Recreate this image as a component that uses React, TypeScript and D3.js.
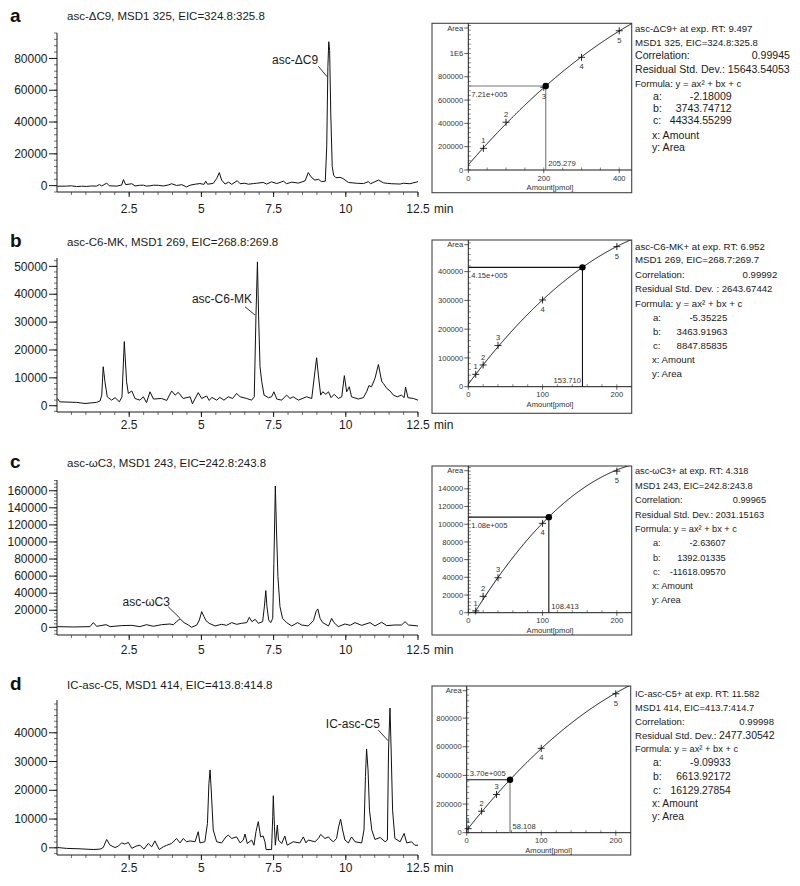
import React from 'react';
import * as d3 from 'd3';

type Pt = [number, number];

const FONT = '"Liberation Sans", Arial, Helvetica, sans-serif';

// ---------------- chromatogram data ----------------
const panelLetters = ['a', 'b', 'c', 'd'];
const chromTitles = [
  'asc-ΔC9, MSD1 325, EIC=324.8:325.8',
  'asc-C6-MK, MSD1 269, EIC=268.8:269.8',
  'asc-ωC3, MSD1 243, EIC=242.8:243.8',
  'IC-asc-C5, MSD1 414, EIC=413.8:414.8',
];
const peakNames = ['asc-ΔC9', 'asc-C6-MK', 'asc-ωC3', 'IC-asc-C5'];
const timeTicks = [2.5, 5, 7.5, 10, 12.5];
const timeTickLabels = ['2.5', '5', '7.5', '10', '12.5'];

const traceA: Pt[] = [
  [0.01, -400], [0.33, -300], [0.5, -100], [0.68, -600], [0.85, -350], [1.03, -500], [1.2, -200], [1.37, -300], [1.47, 700],
  [1.55, -200], [1.72, 1600], [1.81, -100], [2.07, -300], [2.24, 400], [2.3, 3800], [2.38, 600], [2.59, 1200],
  [2.7, -200], [2.85, 200], [2.99, 300], [3.1, -300], [3.22, -100], [3.35, 300], [3.51, 200], [3.68, -200], [3.85, 400], [3.97, 1200],
  [4.14, 100], [4.32, 600], [4.49, -800], [4.61, 300], [4.78, 900], [4.95, 1300], [5.09, 800], [5.15, 2800],
  [5.21, 900], [5.41, 1400], [5.53, 4500], [5.62, 8200], [5.7, 3500], [5.82, 1000], [5.94, 2200], [6.05, 800],
  [6.24, 3100], [6.34, 1200], [6.5, 1500], [6.63, 900], [6.8, 1300], [6.91, 1500], [7.14, 2000], [7.26, 1000], [7.43, 2400],
  [7.61, 1300], [7.84, 2800], [7.95, 1200], [8.13, 2200], [8.36, 1600], [8.59, 3000], [8.7, 8200], [8.82, 5000],
  [8.93, 3500], [9.05, 4000], [9.16, 2500], [9.29, 2800], [9.34, 25000], [9.38, 75000], [9.41, 90500],
  [9.44, 85000], [9.48, 45000], [9.53, 12000], [9.58, 6500], [9.66, 5000], [9.8, 5200], [9.91, 4400],
  [10.09, 2000], [10.25, 1700], [10.38, 1500], [10.61, 1300], [10.78, 2500], [10.86, 1200], [11.13, 3500], [11.3, 1800],
  [11.45, 1400], [11.59, 1200], [11.88, 1000], [11.99, 1500], [12.22, 1200], [12.5, 2500],
];

const traceB: Pt[] = [
  [0.01, 2600], [0.1, 1400], [0.68, 1200], [0.97, 800], [1.37, 1200], [1.49, 1700], [1.55, 3800], [1.6, 14000],
  [1.66, 8600], [1.74, 3200], [1.89, 2000], [2.01, 2900], [2.16, 1400], [2.25, 3200], [2.33, 23000], [2.41, 8600],
  [2.47, 4400], [2.59, 5300], [2.7, 2600], [2.87, 2000], [2.99, 3200], [3.1, 1100], [3.22, 5000], [3.34, 2400],
  [3.62, 2600], [3.8, 1900], [3.97, 5300], [4.09, 3800], [4.2, 4800], [4.37, 2600], [4.61, 3200], [4.69, 700],
  [4.89, 4700], [5.01, 2600], [5.18, 3500], [5.27, 1900], [5.36, 3000], [5.53, 2000], [5.64, 3000], [5.78, 2000],
  [5.93, 3200], [6.08, 2600], [6.22, 4400], [6.34, 3200], [6.57, 2600], [6.74, 2000], [6.83, 3200], [6.89, 32500],
  [6.94, 51600], [6.98, 32500], [7.03, 14000], [7.09, 8600], [7.17, 3800], [7.32, 2900], [7.43, 3200], [7.51, 5000],
  [7.61, 2400], [7.78, 2000], [7.95, 3800], [8.07, 2600], [8.18, 3200], [8.36, 2000], [8.64, 3200], [8.82, 2600],
  [8.93, 12200], [8.99, 17200], [9.05, 11000], [9.13, 3800], [9.2, 5000], [9.31, 4100], [9.4, 5000], [9.49, 2900],
  [9.6, 4100], [9.74, 2600], [9.86, 3200], [9.95, 10800], [10.03, 5000], [10.12, 6800], [10.2, 3200], [10.43, 2400],
  [10.61, 2900], [10.72, 5000], [10.8, 7200], [10.89, 6800], [11.01, 9800], [11.13, 14800], [11.24, 8800],
  [11.3, 8000], [11.42, 6200], [11.53, 5300], [11.65, 3800], [11.78, 3200], [11.93, 3800], [12.02, 2900],
  [12.07, 6700], [12.15, 2900], [12.34, 2600], [12.5, 2000],
];

const traceC: Pt[] = [
  [0.01, 800], [0.57, 400], [1.14, 800], [1.26, 5500], [1.37, 1200], [1.7, 3100], [1.84, 800], [2.24, 2000],
  [2.59, 2300], [2.87, 800], [3.1, 3100], [3.34, 1200], [3.62, 3100], [3.91, 3900], [4.03, 3100], [4.14, 6600],
  [4.26, 10000], [4.4, 5500], [4.55, 2700], [4.66, 0], [4.84, 2700], [4.93, 8600], [5.01, 18400], [5.09, 12500],
  [5.16, 7800], [5.27, 4700], [5.47, 1600], [5.7, 3500], [5.87, 2300], [6.05, 5500], [6.22, 3500], [6.39, 4700],
  [6.57, 5500], [6.66, 11700], [6.75, 6600], [6.86, 9400], [6.97, 4700], [7.12, 6600], [7.18, 24000],
  [7.23, 43000], [7.27, 24000], [7.33, 8600], [7.4, 5500], [7.47, 10500], [7.51, 75000], [7.56, 165600],
  [7.6, 114000], [7.65, 59400], [7.72, 24200], [7.81, 10500], [7.95, 5500], [8.13, 1600], [8.33, 5500],
  [8.47, 2700], [8.7, 1600], [8.88, 7800], [8.97, 18400], [9.03, 21500], [9.11, 10500], [9.2, 5500], [9.4, 1600],
  [9.45, 5500], [9.51, 10500], [9.59, 5500], [9.74, 800], [9.97, 3900], [10.15, 2300], [10.32, 5500],
  [10.55, 2300], [10.84, 5500], [11.01, 1600], [11.24, 5900], [11.42, 2000], [11.7, 2700], [11.93, 2700],
  [12.05, 6600], [12.17, 2700], [12.5, 1600],
];

const traceD: Pt[] = [
  [0.01, 100], [0.33, -200], [0.8, -350], [1.26, -600], [1.49, -450], [1.6, 100], [1.72, 2900], [1.84, 900],
  [2.01, 100], [2.12, 600], [2.24, 1700], [2.35, 1300], [2.47, 1900], [2.59, -200], [2.74, 600], [2.87, 900],
  [3.01, -450], [3.16, 1500], [3.28, 350], [3.39, 2400], [3.54, -600], [3.68, 350], [3.8, 900], [3.97, 1500],
  [4.14, 3250], [4.26, 1700], [4.37, 3250], [4.49, 2100], [4.61, 2400], [4.78, 2100], [4.89, 5600], [4.95, 1700],
  [5.12, 2100], [5.21, 8500], [5.26, 22400], [5.3, 27100], [5.34, 20100], [5.41, 6200], [5.53, 2100],
  [5.7, 1700], [5.85, 3800], [5.93, 4400], [6.05, 3250], [6.22, 3800], [6.34, 1700], [6.45, 2700], [6.51, 4800],
  [6.59, 1500], [6.74, 2700], [6.82, 900], [6.89, 5600], [6.97, 9100], [7.05, 3800], [7.14, 4100], [7.2, 2100],
  [7.24, -600], [7.43, -600], [7.47, 10800], [7.49, 18100], [7.53, 7300], [7.56, 900], [7.63, 7900],
  [7.67, 2700], [7.78, 1500], [7.89, 4100], [7.97, 900], [8.18, 2100], [8.41, 1700], [8.53, 3800], [8.62, 1700],
  [8.7, 2700], [8.93, 2100], [9.05, 3250], [9.13, 4650], [9.28, 3250], [9.4, 3800], [9.49, 2700], [9.57, 2100],
  [9.68, 3250], [9.75, 7300], [9.82, 9900], [9.89, 6200], [9.97, 2700], [10.09, 1700], [10.2, 3800],
  [10.32, 2100], [10.55, 1700], [10.63, 6200], [10.68, 24800], [10.72, 34300], [10.77, 27100], [10.82, 13100],
  [10.9, 6200], [11.01, 2900], [11.19, 3600], [11.36, 2100], [11.44, 2700], [11.48, 34000], [11.53, 48600],
  [11.57, 34000], [11.62, 13100], [11.7, 3250], [11.88, 2100], [12.02, 5000], [12.11, 1700], [12.28, 2100],
  [12.39, 900], [12.5, 900],
];
const traces = [traceA, traceB, traceC, traceD];

const chromYTicksA = [0, 20000, 40000, 60000, 80000];
const chromYTicksB = [0, 10000, 20000, 30000, 40000, 50000];
const chromYTicksC = [0, 20000, 40000, 60000, 80000, 100000, 120000, 140000, 160000];
const chromYTicksD = [0, 10000, 20000, 30000, 40000];
const chromYTicks = [chromYTicksA, chromYTicksB, chromYTicksC, chromYTicksD];

// ---------------- calibration data ----------------
const calAmountsA = [40, 100, 200, 300, 400];
const calAreasA = [186000, 410000, 710000, 967000, 1195000];
const calAmountsB = [10, 20, 40, 100, 200];
const calAreasB = [43000, 75500, 143000, 301600, 487000];
const calAmountsC = [10, 20, 40, 100, 200];
const calAreasC = [2000, 18500, 39500, 101000, 160000];
const calAmountsD = [2, 20, 40, 100, 200];
const calAreasD = [28000, 150000, 267000, 589000, 970000];
const calAmounts = [calAmountsA, calAmountsB, calAmountsC, calAmountsD];
const calAreas = [calAreasA, calAreasB, calAreasC, calAreasD];

const coefsA = [-2.18009, 3743.74712, 44334.55299];
const coefsB = [-5.35225, 3463.91963, 8847.85835];
const coefsC = [-2.63607, 1392.01335, -11618.0957];
const coefsD = [-9.09933, 6613.92172, 16129.27854];
const coefs = [coefsA, coefsB, coefsC, coefsD];

const sampleAmounts = [205.279, 153.71, 108.413, 58.108];
const sampleAreas = [721000, 415000, 108000, 370000];

const calXTicks = [[0, 200, 400], [0, 100, 200], [0, 100, 200], [0, 100, 200]];
const calYTicks = [
  [0, 200000, 400000, 600000, 800000, 1000000],
  [0, 100000, 200000, 300000, 400000],
  [0, 20000, 40000, 60000, 80000, 100000, 120000, 140000],
  [0, 200000, 400000, 600000, 800000],
];

const headerLines = [
  ['asc-ΔC9+ at exp. RT: 9.497', 'MSD1 325, EIC=324.8:325.8'],
  ['asc-C6-MK+ at exp. RT: 6.952', 'MSD1 269, EIC=268.7:269.7'],
  ['asc-ωC3+ at exp. RT: 4.318', 'MSD1 243, EIC=242.8:243.8'],
  ['IC-asc-C5+ at exp. RT: 11.582', 'MSD1 414, EIC=413.7:414.7'],
];
const correlations = ['0.99945', '0.99992', '0.99965', '0.99998'];
const residualLabels = ['Residual Std. Dev.: ', 'Residual Std. Dev. : ', 'Residual Std. Dev.: ', 'Residual Std. Dev.: '];
const residuals = ['15643.54053', '2643.67442', '2031.15163', '2477.30542'];

// ---------------- layout ----------------
const chromLayout = [
  { top: 33, bottom: 192, yDomain: [-4000, 96000], minor: 4000, letterY: 22, titleY: 20, xLabelY: 212.5,
    peakLabel: [9.04, 76200], leader: [[9.05, 75000], [9.36, 68400]] },
  { top: 258, bottom: 412, yDomain: [-2250, 53000], minor: 2000, letterY: 247, titleY: 245.5, xLabelY: 429,
    peakLabel: [6.75, 37000], leader: [[6.51, 35500], [6.86, 32500]] },
  { top: 480, bottom: 635, yDomain: [-9000, 172600], minor: 4000, letterY: 467.5, titleY: 467, xLabelY: 653.5,
    peakLabel: [3.91, 25000], leader: [[3.85, 24100], [4.26, 10500]] },
  { top: 700, bottom: 855, yDomain: [-2500, 51400], minor: 2000, letterY: 690, titleY: 688.5, xLabelY: 872,
    peakLabel: [11.18, 41800], leader: [[11.13, 40900], [11.47, 37200]] },
];

const calLayout = [
  { box: [432, 23.3, 631.7, 192.7], x0: 468.3, yAxis: 170, xMax: 433, yMax: 1259000, yMinor: 40000, xMinor: 50,
    hBelow: true, vRight: true, hColor: '#777', vColor: '#777', numUp: [true, true, false, false, false],
    infoYs: [28.3, 42.7, 55, 69.3, 83.3, 96.7, 108.3, 120.7, 135, 147.3], corrX: 790, coefX: 731.7,
    fs: { small: 9.6, main: 10.6, coef: 10.6, resid: 10.6 } },
  { box: [432, 240, 631.7, 413.3], x0: 468.3, yAxis: 386.7, xMax: 220, yMax: 510000, yMinor: 20000, xMinor: 20,
    hBelow: true, vRight: false, hColor: '#111', vColor: '#111', numUp: [true, true, true, false, false],
    infoYs: [246.7, 260, 275, 289, 304, 317.3, 331.7, 345.7, 360, 374], corrX: 777.3, coefX: 727.3,
    fs: { small: 9.7, main: 9.6, coef: 9.6, resid: 9.6 } },
  { box: [432, 466, 631.7, 635], x0: 468.3, yAxis: 612.7, xMax: 220, yMax: 165800, yMinor: 4000, xMinor: 20,
    hBelow: true, vRight: true, hColor: '#111', vColor: '#111', numUp: [true, true, true, false, false],
    infoYs: [470.7, 485.7, 500, 514.3, 528.7, 542.7, 557.3, 571.7, 585.7, 600], corrX: 766, coefX: 725.7,
    fs: { small: 9.2, main: 9.2, coef: 9.2, resid: 9.2 } },
  { box: [432, 686, 630.7, 855], x0: 466.7, yAxis: 832.7, xMax: 220, yMax: 1024000, yMinor: 40000, xMinor: 20,
    hBelow: false, vRight: true, hColor: '#111', vColor: '#777', numUp: [true, true, true, false, false],
    infoYs: [694, 707.7, 721.7, 735.7, 749, 762.7, 776, 790, 803.3, 816], corrX: 774, coefX: 730.7,
    fs: { small: 9.3, main: 9.6, coef: 10.3, resid: 10.5 } },
];

const INK = '#1a1a1a';
const GREY = '#333';

function fmtExp(v: number) {
  const [m, e] = v.toExponential(2).split('e');
  return `${m}e${e[0]}${e.slice(1).padStart(3, '0')}`;
}

function Chromatogram({ i }: { i: number }) {
  const L = chromLayout[i];
  const x = d3.scaleLinear().domain([0, 12.5]).range([57, 418]);
  const y = d3.scaleLinear().domain(L.yDomain).range([L.bottom, L.top]);
  const path = d3.line<Pt>().x(d => x(Math.min(d[0], 12.5))).y(d => y(d[1]))(traces[i]) || '';
  const minorY = d3.range(Math.ceil(L.yDomain[0] / L.minor) * L.minor, L.yDomain[1] + 1e-6, L.minor);
  const minorX = d3.range(0.5, 12.5001, 0.5);
  return (
    <g>
      <text x={10} y={L.letterY} fontSize={19} fontWeight="bold" fill="#111">{panelLetters[i]}</text>
      <text x={67} y={L.titleY} fontSize={11.5} fill={INK}>{chromTitles[i]}</text>
      {minorY.map(v => (
        <line key={'my' + v} x1={54} x2={57} y1={y(v)} y2={y(v)} stroke={GREY} strokeWidth={0.7} />
      ))}
      {chromYTicks[i].map(v => (
        <g key={'y' + v}>
          <line x1={49} x2={57} y1={y(v)} y2={y(v)} stroke={INK} strokeWidth={1} />
          <text x={47.5} y={y(v)} dy="0.35em" textAnchor="end" fontSize={12} fill={INK}>{v}</text>
        </g>
      ))}
      {minorX.map(t => (
        <line key={'mx' + t} x1={x(t)} x2={x(t)} y1={L.bottom} y2={L.bottom + 3} stroke={GREY} strokeWidth={0.7} />
      ))}
      {timeTicks.map((t, k) => (
        <g key={'x' + t}>
          <line x1={x(t)} x2={x(t)} y1={L.bottom} y2={L.bottom + 5} stroke={INK} strokeWidth={1} />
          <text x={x(t)} y={L.xLabelY} textAnchor="middle" fontSize={12} fill={INK}>{timeTickLabels[k]}</text>
        </g>
      ))}
      <text x={434} y={L.xLabelY} fontSize={12} fill={INK}>min</text>
      <line x1={57} x2={57} y1={L.top} y2={L.bottom} stroke={INK} strokeWidth={1} />
      <line x1={57} x2={418} y1={L.bottom} y2={L.bottom} stroke={INK} strokeWidth={1} />
      <path d={path} fill="none" stroke="#111" strokeWidth={1} strokeLinejoin="round" />
      <text x={x(L.peakLabel[0])} y={y(L.peakLabel[1])} textAnchor="end" fontSize={12} fill={INK}>{peakNames[i]}</text>
      <line x1={x(L.leader[0][0])} y1={y(L.leader[0][1])} x2={x(L.leader[1][0])} y2={y(L.leader[1][1])}
        stroke={INK} strokeWidth={0.9} />
    </g>
  );
}

function Calibration({ i }: { i: number }) {
  const L = calLayout[i];
  const [bx0, by0, bx1, by1] = L.box;
  const x = d3.scaleLinear().domain([0, L.xMax]).range([L.x0, bx1]);
  const y = d3.scaleLinear().domain([0, L.yMax]).range([L.yAxis, by0]);
  const [ca, cb, cc] = coefs[i];
  const xs = d3.range(0, L.xMax + 1e-9, L.xMax / 240);
  const curve = d3.line<number>().x(v => x(v)).y(v => y(ca * v * v + cb * v + cc))(xs) || '';
  const minorY = d3.range(0, L.yMax, L.yMinor);
  const minorX = d3.range(0, L.xMax, L.xMinor);
  const sx = x(sampleAmounts[i]);
  const sy = y(sampleAreas[i]);
  const clipId = `calclip${i}`;
  const tickFont = 7.6;
  return (
    <g>
      <defs>
        <clipPath id={clipId}>
          <rect x={L.x0} y={by0} width={bx1 - L.x0} height={L.yAxis - by0} />
        </clipPath>
      </defs>
      <rect x={bx0} y={by0} width={bx1 - bx0} height={by1 - by0} fill="#fff" stroke="#444" strokeWidth={1.1} />
      {minorY.map(v => (
        <line key={'cy' + v} x1={L.x0} x2={L.x0 + 2.5} y1={y(v)} y2={y(v)} stroke={GREY} strokeWidth={0.6} />
      ))}
      {calYTicks[i].map(v => (
        <g key={'CY' + v}>
          <line x1={L.x0 - 4} x2={L.x0} y1={y(v)} y2={y(v)} stroke={GREY} strokeWidth={0.8} />
          <text x={L.x0 - 5} y={y(v)} dy="0.35em" textAnchor="end" fontSize={tickFont} fill={GREY}>
            {v >= 1e6 ? '1E6' : String(v)}
          </text>
        </g>
      ))}
      <line x1={L.x0 - 4} x2={L.x0} y1={by0 + 4.7} y2={by0 + 4.7} stroke={GREY} strokeWidth={0.8} />
      <text x={L.x0 - 5} y={by0 + 4.7} dy="0.35em" textAnchor="end" fontSize={tickFont} fill={GREY}>Area</text>
      {minorX.map(v => (
        <line key={'cx' + v} x1={x(v)} x2={x(v)} y1={L.yAxis} y2={L.yAxis - 2.5} stroke={GREY} strokeWidth={0.6} />
      ))}
      {calXTicks[i].map(v => (
        <g key={'CX' + v}>
          <line x1={x(v)} x2={x(v)} y1={L.yAxis} y2={L.yAxis + 3} stroke={GREY} strokeWidth={0.8} />
          <text x={x(v)} y={L.yAxis + 8} dy="0.35em" textAnchor="middle" fontSize={tickFont} fill={GREY}>{v}</text>
        </g>
      ))}
      <text x={(L.x0 + bx1) / 2} y={L.yAxis + 17.2} dy="0.35em" textAnchor="middle" fontSize={tickFont} fill={GREY}>
        Amount[pmol]
      </text>
      <line x1={L.x0} x2={L.x0} y1={by0} y2={L.yAxis} stroke={INK} strokeWidth={1} />
      <line x1={L.x0} x2={bx1} y1={L.yAxis} y2={L.yAxis} stroke={INK} strokeWidth={1} />
      <g clipPath={`url(#${clipId})`}>
        <path d={curve} fill="none" stroke="#111" strokeWidth={1} />
      </g>
      <line x1={L.x0} x2={sx} y1={sy} y2={sy} stroke={L.hColor} strokeWidth={1.1} />
      <line x1={sx} x2={sx} y1={sy} y2={L.yAxis} stroke={L.vColor} strokeWidth={1.1} />
      {calAmounts[i].map((amt, k) => {
        const px = x(amt);
        const py = y(calAreas[i][k]);
        const up = L.numUp[k];
        return (
          <g key={'p' + k}>
            <line x1={px - 3.5} x2={px + 3.5} y1={py} y2={py} stroke="#111" strokeWidth={0.9} />
            <line x1={px} x2={px} y1={py - 3.5} y2={py + 3.5} stroke="#111" strokeWidth={0.9} />
            <text x={px} y={up ? py - 8 : py + 9.5} dy="0.35em" textAnchor="middle" fontSize={tickFont} fill={GREY}>
              {k + 1}
            </text>
          </g>
        );
      })}
      <circle cx={sx} cy={sy} r={3.2} fill="#000" />
      <text x={L.x0 + 3} y={L.hBelow ? sy + 8 : sy - 6.5} dy="0.35em" fontSize={tickFont} fill={GREY}>
        {fmtExp(sampleAreas[i])}
      </text>
      <text x={L.vRight ? sx + 2.5 : sx - 1.5} y={L.yAxis - 6.6} dy="0.35em" fontSize={tickFont}
        textAnchor={L.vRight ? 'start' : 'end'} fill={GREY}>
        {sampleAmounts[i].toFixed(3)}
      </text>
    </g>
  );
}

function Info({ i }: { i: number }) {
  const L = calLayout[i];
  const ys = L.infoYs;
  const fs = L.fs;
  const x0 = 635;
  const cx = 653;
  const names = ['a:', 'b:', 'c:'];
  return (
    <g fill={INK}>
      <text x={x0} y={ys[0]} dy="0.35em" fontSize={fs.small}>{headerLines[i][0]}</text>
      <text x={x0} y={ys[1]} dy="0.35em" fontSize={fs.small}>{headerLines[i][1]}</text>
      <text x={x0} y={ys[2]} dy="0.35em" fontSize={fs.main}>Correlation:</text>
      <text x={L.corrX} y={ys[2]} dy="0.35em" fontSize={fs.main} textAnchor="end">{correlations[i]}</text>
      <text x={x0} y={ys[3]} dy="0.35em" fontSize={fs.main}>
        {residualLabels[i]}
        <tspan fontSize={fs.resid}>{residuals[i]}</tspan>
      </text>
      <text x={x0} y={ys[4]} dy="0.35em" fontSize={fs.small}>Formula: y = ax² + bx + c</text>
      {coefs[i].map((c, k) => (
        <g key={k}>
          <text x={cx} y={ys[5 + k]} dy="0.35em" fontSize={fs.coef}>{names[k]}</text>
          <text x={L.coefX} y={ys[5 + k]} dy="0.35em" fontSize={fs.coef} textAnchor="end">{c.toFixed(5)}</text>
        </g>
      ))}
      <text x={cx - 1} y={ys[8]} dy="0.35em" fontSize={fs.coef}>x: Amount</text>
      <text x={cx - 1} y={ys[9]} dy="0.35em" fontSize={fs.coef}>y: Area</text>
    </g>
  );
}

export default function App() {
  return (
    <svg width={800} height={886} viewBox="0 0 800 886"
      style={{ position: 'absolute', left: 0, top: 0, background: '#fff' }} fontFamily={FONT}>
      <rect x={0} y={0} width={800} height={886} fill="#fff" />
      {[0, 1, 2, 3].map(i => (
        <g key={i}>
          <Chromatogram i={i} />
          <Calibration i={i} />
          <Info i={i} />
        </g>
      ))}
    </svg>
  );
}
